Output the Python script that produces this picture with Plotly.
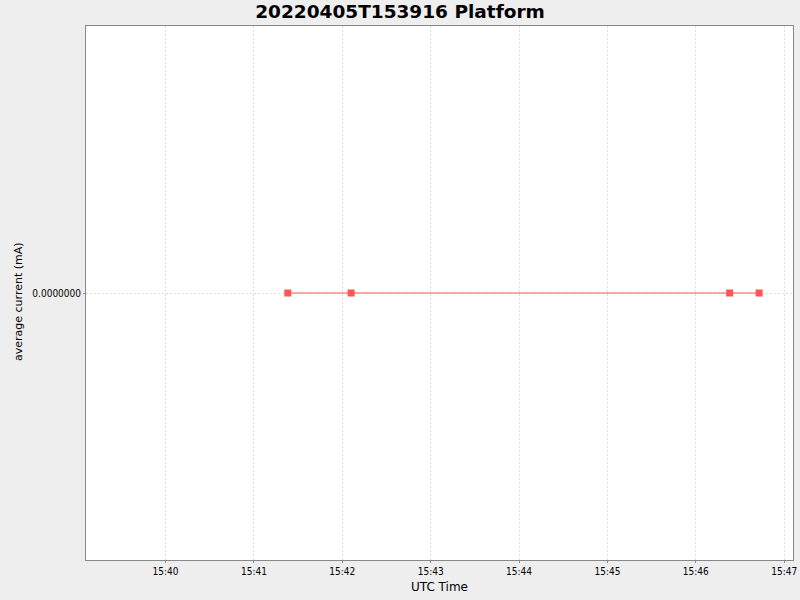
import plotly.graph_objects as go

# Sample times (UTC) and average current readings
times = ["2022-04-05 15:41:23", "2022-04-05 15:42:06",
         "2022-04-05 15:46:23", "2022-04-05 15:46:43"]
current_ma = [0.0, 0.0, 0.0, 0.0]

x_range = ["2022-04-05 15:39:06", "2022-04-05 15:47:06"]
x_ticks = ["2022-04-05 15:%02d:00" % m for m in range(40, 48)]
x_tick_labels = ["15:%02d" % m for m in range(40, 48)]

RED = "#FF5555"
FONT = "DejaVu Sans"
TICK_FONT = "DejaVu Sans Condensed, DejaVu Sans"

fig = go.Figure()
fig.add_trace(go.Scatter(
    x=times, y=current_ma,
    mode="lines+markers",
    line=dict(color=RED, width=1),
    marker=dict(symbol="square", size=7, color=RED),
    showlegend=False,
))

fig.update_layout(
    width=800, height=600,
    paper_bgcolor="#EEEEEE",
    plot_bgcolor="white",
    margin=dict(l=86, r=7, t=26, b=40),
    font=dict(family=FONT, size=11, color="black"),
    title=dict(text="<b>20220405T153916 Platform</b>", x=0.5, xanchor="center",
               y=0.98, yanchor="middle",
               font=dict(family=FONT, size=18.5, color="black")),
)

grid = dict(showgrid=True, gridcolor="#DDDDDD", griddash="2px,2px", gridwidth=1,
            showline=True, linecolor="#888888", linewidth=1, mirror=True,
            ticks="outside", ticklen=2, tickcolor="#888888",
            tickfont=dict(family=TICK_FONT, size=10), zeroline=False,
            automargin=False)

fig.update_xaxes(
    type="date", range=x_range,
    tickvals=x_ticks, ticktext=x_tick_labels,
    title=dict(text="UTC Time", font=dict(family=FONT, size=12), standoff=6),
    **grid,
)
fig.update_yaxes(
    range=[-1, 1],
    tickvals=[0], ticktext=["0.0000000"],
    **grid,
)

# y-axis label placed like the original (slightly below the plot centre)
fig.add_annotation(
    text="average current (mA)", textangle=-90,
    xref="paper", yref="paper", x=0, y=0.5,
    xanchor="center", yanchor="middle", xshift=-68, yshift=-9,
    showarrow=False, font=dict(family=FONT, size=11, color="black"),
)

# drop the default page margin so the figure fills the window
fig.write_html("out.html",
               config={"displayModeBar": False},
               post_script="document.body.style.margin='0';document.body.style.background='#EEEEEE';")
